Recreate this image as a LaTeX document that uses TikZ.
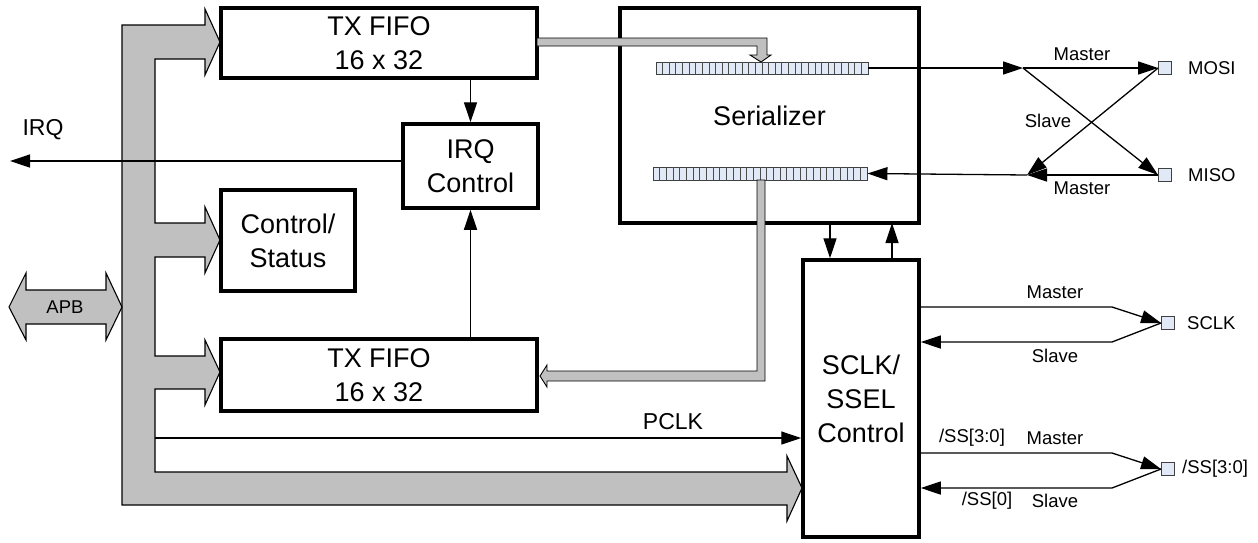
\documentclass[tikz,border=0pt]{standalone}
\usepackage{fontspec}
\setmainfont{Liberation Sans}
\usetikzlibrary{arrows.meta,calc}
\definecolor{busgray}{RGB}{192,192,192}
\definecolor{regfill}{RGB}{226,233,246}
\tikzset{
  blk/.style={draw, line width=3.5pt, fill=white, inner sep=0pt, align=center, font=\fontsize{27}{34}\selectfont},
  thin/.style={line width=1.3pt},
  arr/.style={thin, -{Triangle[length=20pt,width=13pt]}},
  bus/.style={draw, line width=1.1pt, fill=busgray},
  reg/.style={draw=black!75, line width=0.9pt, fill=regfill, inner sep=0pt},
  pad/.style={draw=black!75, line width=0.9pt, fill=regfill, inner sep=0pt, minimum size=13pt},
  sml/.style={font=\fontsize{18.5}{22}\selectfont, inner sep=0pt},
  mid/.style={font=\fontsize{23}{27}\selectfont, inner sep=0pt}
}
\begin{document}
\begin{tikzpicture}[x=1pt,y=-1pt]
\useasboundingbox (0,0) rectangle (1258,542);
% main gray bus
\draw[bus] (122,25) -- (205,25) -- (205,9) -- (220,42) -- (205,75) -- (205,59) -- (155,59)
  -- (155,223) -- (205,223) -- (205,207) -- (220,240) -- (205,273) -- (205,257) -- (155,257)
  -- (155,356) -- (205,356) -- (205,340) -- (220,372) -- (205,405) -- (205,389) -- (155,389)
  -- (155,472) -- (787,472) -- (787,456) -- (802,488) -- (787,521) -- (787,505) -- (122,505) -- cycle;
% APB double arrow
\draw[bus] (9,307) -- (26,273) -- (26,290) -- (106,290) -- (106,273) -- (122,307) -- (106,340) -- (106,324) -- (26,324) -- (26,340) -- cycle;
\node[sml] (apb) at (65,307) {APB};
% blocks
\node[blk, minimum width=316pt, minimum height=70pt] (txtop) at (379,43) {TX FIFO\\16 x 32};
\node[blk, minimum width=135pt, minimum height=84pt] (irq) at (470.5,166) {IRQ\\Control};
\node[blk, minimum width=134pt, minimum height=101pt] (ctrl) at (288,240.5) {Control/\\Status};
\node[blk, minimum width=316pt, minimum height=72pt] (txbot) at (379,375) {TX FIFO\\16 x 32};
\node[blk, minimum width=299pt, minimum height=215pt] (ser) at (769.5,115.5) {Serializer};
\node[blk, minimum width=116pt, minimum height=277pt] (sclk) at (861,398.5) {SCLK/\\SSEL\\Control};
% shift registers
\node[reg, minimum width=212pt, minimum height=12pt] (txreg) at (762,68) {};
\node[reg, minimum width=214pt, minimum height=13pt] (rxreg) at (760,173.5) {};
\foreach \i in {1,...,31} {
  \draw[black!70, line width=0.8pt] (656+\i*6.625,62) -- ++(0,12);
  \draw[black!70, line width=0.8pt] (653+\i*6.6875,167) -- ++(0,13);
}
% internal gray buses
\draw[bus, line width=0.9pt] (537,38) -- (767,38) -- (767,55) -- (771,55) -- (761,62) -- (750,55) -- (757,55) -- (757,46) -- (537,46) -- cycle;
\draw[bus, line width=0.9pt] (757,180) -- (765,180) -- (765,381) -- (547,381) -- (547,387) -- (540,376) -- (547,365) -- (547,371) -- (757,371) -- cycle;
% IRQ
\coordinate (irqend) at (10,161);
\draw[arr] (irq.west |- irqend) -- (irqend);
\node[mid] (irqlbl) at (43,130) {IRQ};
\draw[arr] (irq.north |- txtop.south) -- (irq.north);
\draw[arr] (irq.south |- txbot.north) -- (irq.south);
% PCLK
\coordinate (pclkstart) at (155,438);
\draw[arr] (pclkstart) -- (sclk.west |- pclkstart);
\node[mid] (pclk) at (673,422) {PCLK};
% serializer <-> sclk control
\coordinate (sdown) at (830,223);
\coordinate (sup) at (892,223);
\draw[arr] (sdown) -- (sdown |- sclk.north);
\draw[arr] (sup |- sclk.north) -- (sup);
% pads
\node[pad] (mosipad) at (1165,68) {};
\node[pad] (misopad) at (1165,175) {};
\node[pad] (sclkpad) at (1168,323) {};
\node[pad] (sspad) at (1168,469) {};
\node[sml, anchor=west] (mosil) at (1188,68) {MOSI};
\node[sml, anchor=west] (misol) at (1188,175) {MISO};
\node[sml, anchor=west] (sclkl) at (1187,323) {SCLK};
\node[sml, anchor=west] (ssl) at (1182,469) {/SS[3:0]};
% MOSI / MISO
\coordinate (mosisplit) at (1023,68);
\coordinate (misojoin) at (1027,175);
\draw[arr] (txreg.east) -- (mosisplit);
\draw[arr] (mosisplit) -- (mosipad.west);
\draw[arr] (mosisplit) -- (misopad.west);
\draw[arr] (mosipad.west) -- (misojoin);
\draw[arr] (misopad.west) -- (misojoin);
\draw[arr] (misojoin) -- (rxreg.east);
\node[sml] (m1) at (1082,54) {Master};
\node[sml] (s1) at (1048,121) {Slave};
\node[sml] (m2) at (1082,188) {Master};
% SCLK
\coordinate (scm) at (1112,307);
\coordinate (scs) at (1112,342);
\draw[arr] (sclk.east |- scm) -- (scm) -- (sclkpad.west);
\draw[arr] (sclkpad.west) -- (scs) -- (sclk.east |- scs);
\node[sml] (m3) at (1055,292) {Master};
\node[sml] (s3) at (1055,356) {Slave};
% SS
\coordinate (ssm) at (1112,453);
\coordinate (sss) at (1112,488);
\draw[arr] (sclk.east |- ssm) -- (ssm) -- (sspad.west);
\draw[arr] (sspad.west) -- (sss) -- (sclk.east |- sss);
\node[sml] (ss1) at (972,438) {/SS[3:0]};
\node[sml] (m4) at (1055,438) {Master};
\node[sml] (ss2) at (987,501) {/SS[0]};
\node[sml] (s4) at (1055,501) {Slave};
\end{tikzpicture}
\end{document}
